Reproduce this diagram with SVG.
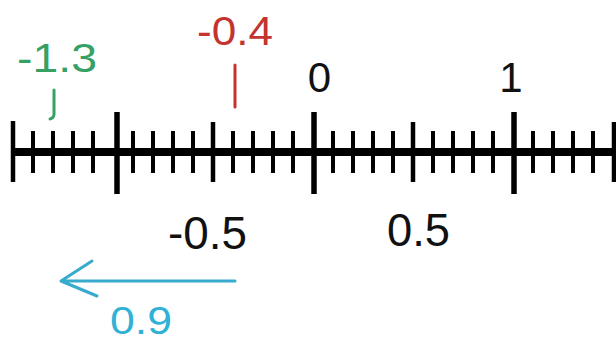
<svg xmlns="http://www.w3.org/2000/svg" width="616" height="348" viewBox="0 0 616 348">
<style>
.t{font-family:"Liberation Sans",Arial,sans-serif;}
.blk{fill:#111;}
.sm{stroke:#000;stroke-width:4;}
.md{stroke:#000;stroke-width:4.5;}
.bg{stroke:#000;stroke-width:5.5;}
</style>
<rect width="616" height="348" fill="#fff"/>
<g id="number-line">
<line x1="13" y1="152" x2="616" y2="152" stroke="#000" stroke-width="8"/>
<g class="sm">
<line x1="33" y1="131" x2="33" y2="173"/><line x1="53" y1="131" x2="53" y2="173"/><line x1="73" y1="131" x2="73" y2="173"/><line x1="93" y1="131" x2="93" y2="173"/>
<line x1="133" y1="131" x2="133" y2="173"/><line x1="153" y1="131" x2="153" y2="173"/><line x1="173" y1="131" x2="173" y2="173"/><line x1="193" y1="131" x2="193" y2="173"/>
<line x1="233" y1="131" x2="233" y2="173"/><line x1="253" y1="131" x2="253" y2="173"/><line x1="273" y1="131" x2="273" y2="173"/><line x1="293" y1="131" x2="293" y2="173"/>
<line x1="333" y1="131" x2="333" y2="173"/><line x1="353" y1="131" x2="353" y2="173"/><line x1="373" y1="131" x2="373" y2="173"/><line x1="393" y1="131" x2="393" y2="173"/>
<line x1="433" y1="131" x2="433" y2="173"/><line x1="453" y1="131" x2="453" y2="173"/><line x1="473" y1="131" x2="473" y2="173"/><line x1="493" y1="131" x2="493" y2="173"/>
<line x1="533" y1="131" x2="533" y2="173"/><line x1="553" y1="131" x2="553" y2="173"/><line x1="573" y1="131" x2="573" y2="173"/><line x1="593" y1="131" x2="593" y2="173"/>
</g>
<g class="md">
<line x1="13" y1="121" x2="13" y2="182"/><line x1="213" y1="122" x2="213" y2="182"/><line x1="413" y1="122" x2="413" y2="182"/><line x1="614" y1="122" x2="614" y2="182"/>
</g>
<g class="bg">
<line x1="117" y1="112" x2="117" y2="194"/><line x1="314" y1="112" x2="314" y2="194"/><line x1="514" y1="112" x2="514" y2="194"/>
</g>
</g>
<g id="label-0"><text class="t blk" x="319.5" y="92" font-size="42" text-anchor="middle">0</text></g>
<g id="label-1"><text class="t blk" x="511" y="92" font-size="42" text-anchor="middle">1</text></g>
<g id="label-m05"><text class="t blk" x="168" y="249" font-size="46" textLength="79" lengthAdjust="spacingAndGlyphs">-0.5</text></g>
<g id="label-05"><text class="t blk" x="387" y="246" font-size="46" textLength="63" lengthAdjust="spacingAndGlyphs">0.5</text></g>
<g id="mark-m13">
<text class="t" x="17" y="72" font-size="41" fill="#36a065" textLength="80" lengthAdjust="spacingAndGlyphs">-1.3</text>
<path d="M54 90 L54 114 Q54 118 50 119" fill="none" stroke="#36a065" stroke-width="3" stroke-linecap="round"/>
</g>
<g id="mark-m04">
<text class="t" x="197" y="45" font-size="41" fill="#c4332f" textLength="76" lengthAdjust="spacingAndGlyphs">-0.4</text>
<line x1="235" y1="65" x2="235" y2="107" stroke="#c4332f" stroke-width="3" stroke-linecap="round"/>
</g>
<g id="connectors">
<path d="M235 281 L61 281 M92 261 L61 281 L97 296" fill="none" stroke="#38aacd" stroke-width="3" stroke-linecap="round" stroke-linejoin="round"/>
</g>
<g id="label-09"><text class="t" x="110" y="334" font-size="39" fill="#2fb2d6" textLength="62" lengthAdjust="spacingAndGlyphs">0.9</text></g>
</svg>
